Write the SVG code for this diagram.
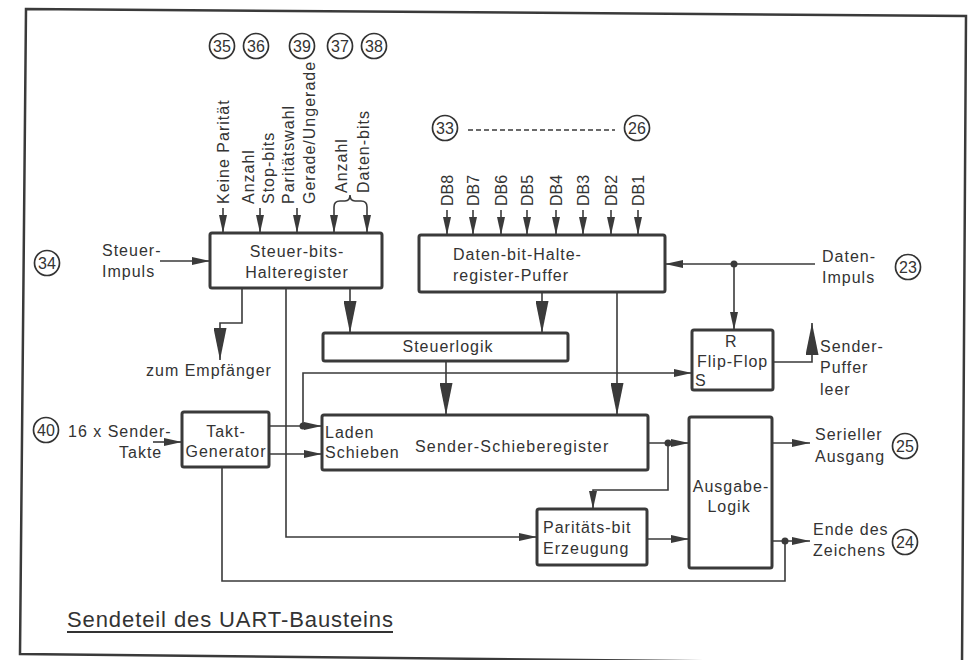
<svg xmlns="http://www.w3.org/2000/svg" width="971" height="660" viewBox="0 0 971 660">
<style>
text{font-family:"Liberation Sans",Arial,sans-serif;font-size:16px;fill:#333;letter-spacing:1px}
.c{text-anchor:middle}
.v{font-size:16px}
.n{font-size:16px;letter-spacing:0;text-anchor:middle}
.box{fill:none;stroke:#3a3a3a;stroke-width:3}
.ln{fill:none;stroke:#3a3a3a;stroke-width:1.6}
.cir{fill:none;stroke:#333;stroke-width:1.7}
.dot{fill:#3a3a3a}
</style>
<defs>
<marker id="s" markerWidth="18" markerHeight="8" refX="18" refY="4" orient="auto" markerUnits="userSpaceOnUse" viewBox="0 0 18 8"><path d="M0,0 L18,4 L0,8 z" fill="#3a3a3a"/></marker>
<marker id="b" markerWidth="32" markerHeight="13" refX="32" refY="6.5" orient="auto" markerUnits="userSpaceOnUse" viewBox="0 0 32 13"><path d="M0,0 L32,6.5 L0,13 z" fill="#3a3a3a"/></marker>
</defs>
<rect width="971" height="660" fill="#fff"/>
<polygon points="26,9 966,16 962,664 20,654" fill="none" stroke="#3a3a3a" stroke-width="2.5"/>

<g id="pins">
<circle class="cir" cx="222" cy="46" r="12.5"/><text class="n" x="222" y="52">35</text>
<circle class="cir" cx="256" cy="46" r="12.5"/><text class="n" x="256" y="52">36</text>
<circle class="cir" cx="302" cy="46" r="12.5"/><text class="n" x="302" y="52">39</text>
<circle class="cir" cx="340" cy="46" r="12.5"/><text class="n" x="340" y="52">37</text>
<circle class="cir" cx="374" cy="46" r="12.5"/><text class="n" x="374" y="52">38</text>
<circle class="cir" cx="445" cy="128" r="12.5"/><text class="n" x="445" y="134">33</text>
<line x1="468" y1="130" x2="615" y2="130" stroke="#3a3a3a" stroke-width="1.6" stroke-dasharray="5 3"/>
<circle class="cir" cx="637" cy="128" r="12.5"/><text class="n" x="637" y="134">26</text>
<circle class="cir" cx="47" cy="263" r="12.5"/><text class="n" x="47" y="269">34</text>
<circle class="cir" cx="908" cy="267" r="12.5"/><text class="n" x="908" y="273">23</text>
<circle class="cir" cx="46" cy="430" r="12.5"/><text class="n" x="46" y="436">40</text>
<circle class="cir" cx="905" cy="446" r="12.5"/><text class="n" x="905" y="452">25</text>
<circle class="cir" cx="905" cy="542" r="12.5"/><text class="n" x="905" y="548">24</text>
</g>

<g id="input-labels">
<text class="v" transform="translate(229,204) rotate(-90)">Keine Parität</text>
<text class="v" transform="translate(254,204) rotate(-90)">Anzahl</text>
<text class="v" transform="translate(274,204) rotate(-90)">Stop-bits</text>
<text class="v" transform="translate(294,204) rotate(-90)">Paritätswahl</text>
<text class="v" transform="translate(315,204) rotate(-90)">Gerade/Ungerade</text>
<text class="v" transform="translate(347,193) rotate(-90)">Anzahl</text>
<text class="v" transform="translate(369,193) rotate(-90)">Daten-bits</text>
<path class="ln" d="M334,207 Q334,201 340,201 L345,201 Q350,201 350,195 Q350,201 355,201 L361,201 Q367,201 367,207"/>
<text class="v" style="letter-spacing:0" transform="translate(453,206) rotate(-90)">DB8</text>
<text class="v" style="letter-spacing:0" transform="translate(479,206) rotate(-90)">DB7</text>
<text class="v" style="letter-spacing:0" transform="translate(507,206) rotate(-90)">DB6</text>
<text class="v" style="letter-spacing:0" transform="translate(533,206) rotate(-90)">DB5</text>
<text class="v" style="letter-spacing:0" transform="translate(562,206) rotate(-90)">DB4</text>
<text class="v" style="letter-spacing:0" transform="translate(589,206) rotate(-90)">DB3</text>
<text class="v" style="letter-spacing:0" transform="translate(617,206) rotate(-90)">DB2</text>
<text class="v" style="letter-spacing:0" transform="translate(644,206) rotate(-90)">DB1</text>
<text x="102" y="256">Steuer-</text><text x="102" y="277">Impuls</text>
<text x="146" y="376">zum Empfänger</text>
<text x="68" y="437">16 x Sender-</text><text x="119" y="458">Takte</text>
<text x="822" y="262">Daten-</text><text x="822" y="283">Impuls</text>
<text x="820" y="352">Sender-</text><text x="820" y="373">Puffer</text><text x="820" y="395">leer</text>
<text x="815" y="440">Serieller</text><text x="815" y="462">Ausgang</text>
<text x="813" y="535">Ende des</text><text x="813" y="556">Zeichens</text>
</g>

<g id="steuerbits">
<rect class="box" x="210" y="233" width="172" height="55" rx="2"/>
<text class="c" x="297" y="257">Steuer-bits-</text>
<text class="c" x="297" y="278">Halteregister</text>
</g>
<g id="datenbit">
<rect class="box" x="419" y="235" width="246" height="57" rx="2"/>
<text x="453" y="260">Daten-bit-Halte-</text>
<text x="453" y="281">register-Puffer</text>
</g>
<g id="steuerlogik">
<rect class="box" x="323" y="333" width="245" height="28" rx="2"/>
<text class="c" x="448" y="352">Steuerlogik</text>
</g>
<g id="flipflop">
<rect class="box" x="692" y="330" width="81" height="60" rx="2"/>
<text x="725" y="347">R</text>
<text x="697" y="367">Flip-Flop</text>
<text x="695" y="386">S</text>
</g>
<g id="takt">
<rect class="box" x="182" y="412" width="87" height="55" rx="2"/>
<text class="c" x="226" y="437">Takt-</text>
<text class="c" x="226" y="457">Generator</text>
</g>
<g id="schieberegister">
<rect class="box" x="322" y="415" width="326" height="55" rx="2"/>
<text x="325" y="438">Laden</text>
<text x="325" y="458">Schieben</text>
<text x="415" y="452" style="letter-spacing:1.2px">Sender-Schieberegister</text>
</g>
<g id="paritaet">
<rect class="box" x="537" y="509" width="110" height="56" rx="2"/>
<text x="543" y="533">Paritäts-bit</text>
<text x="543" y="554">Erzeugung</text>
</g>
<g id="ausgabe">
<rect class="box" x="689" y="417" width="83" height="151" rx="2"/>
<text class="c" x="731" y="492">Ausgabe-</text>
<text class="c" x="729" y="512">Logik</text>
</g>

<g id="connectors">
<path class="ln" d="M160,261 H210" marker-end="url(#s)"/>
<path class="ln" d="M223,208 V233" marker-end="url(#s)"/>
<path class="ln" d="M260,208 V233" marker-end="url(#s)"/>
<path class="ln" d="M297,208 V233" marker-end="url(#s)"/>
<path class="ln" d="M334,207 V233" marker-end="url(#s)"/>
<path class="ln" d="M367,207 V233" marker-end="url(#s)"/>
<path class="ln" d="M447,210 V235" marker-end="url(#s)"/>
<path class="ln" d="M473,210 V235" marker-end="url(#s)"/>
<path class="ln" d="M501,210 V235" marker-end="url(#s)"/>
<path class="ln" d="M527,210 V235" marker-end="url(#s)"/>
<path class="ln" d="M556,210 V235" marker-end="url(#s)"/>
<path class="ln" d="M583,210 V235" marker-end="url(#s)"/>
<path class="ln" d="M611,210 V235" marker-end="url(#s)"/>
<path class="ln" d="M638,210 V235" marker-end="url(#s)"/>
<path class="ln" d="M242,288 V323 H220 V360" marker-end="url(#b)"/>
<path class="ln" d="M350,288 V333" marker-end="url(#b)"/>
<path class="ln" d="M542,292 V333" marker-end="url(#b)"/>
<path class="ln" d="M617,292 V415" marker-end="url(#b)"/>
<path class="ln" d="M446,361 V415" marker-end="url(#b)"/>
<path class="ln" d="M815,264 H665" marker-end="url(#s)"/>
<circle class="dot" cx="734" cy="264" r="3.5"/>
<path class="ln" d="M734,264 V330" marker-end="url(#s)"/>
<path class="ln" d="M773,362 H812 V323" marker-end="url(#b)"/>
<path class="ln" d="M303,426 V373 H692" marker-end="url(#s)"/>
<path class="ln" d="M153,442 H182" marker-end="url(#s)"/>
<path class="ln" d="M269,426 H322" marker-end="url(#s)"/>
<circle class="dot" cx="303" cy="426" r="3.5"/>
<path class="ln" d="M269,454 H322" marker-end="url(#s)"/>
<path class="ln" d="M286,288 V537 H537" marker-end="url(#s)"/>
<path class="ln" d="M222,467 V581 H785 V541"/>
<path class="ln" d="M648,443 H689" marker-end="url(#s)"/>
<circle class="dot" cx="668" cy="443" r="3.5"/>
<path class="ln" d="M668,443 V490 H593 V509" marker-end="url(#s)"/>
<path class="ln" d="M647,539 H689" marker-end="url(#s)"/>
<path class="ln" d="M772,443 H810" marker-end="url(#s)"/>
<path class="ln" d="M772,541 H810" marker-end="url(#s)"/>
<circle class="dot" cx="785" cy="541" r="3.5"/>
</g>

<g id="title">
<text x="67" y="627" style="font-size:22px;letter-spacing:0" textLength="326" lengthAdjust="spacing">Sendeteil des UART-Bausteins</text>
<line x1="67" y1="632" x2="393" y2="632" stroke="#333" stroke-width="2"/>
</g>
</svg>
